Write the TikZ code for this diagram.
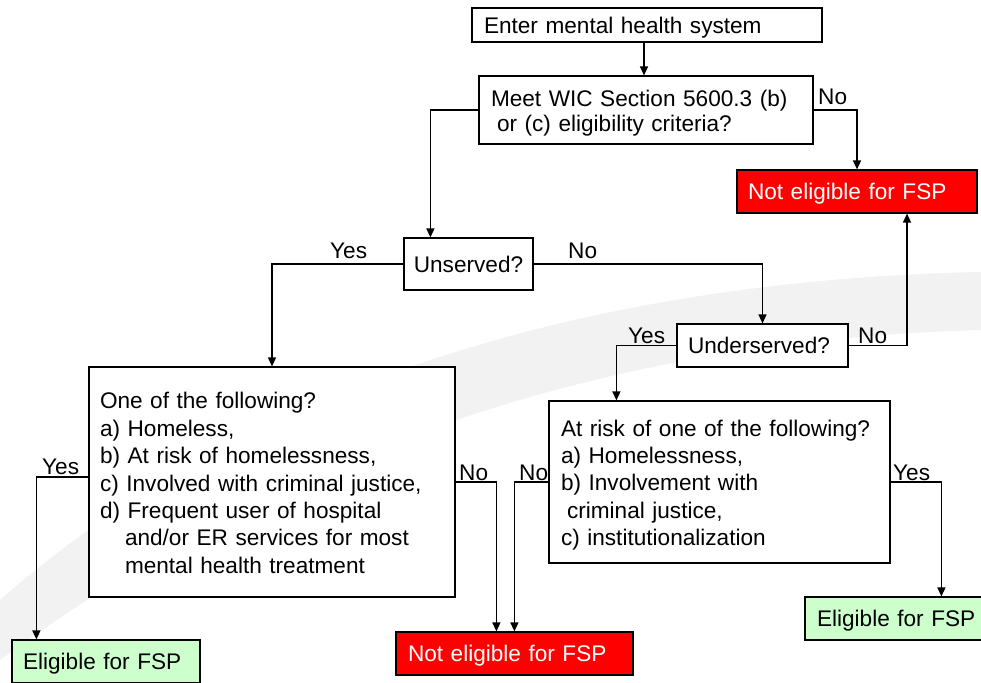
\documentclass[tikz,border=0pt]{standalone}
\usepackage{fontspec}
\setmainfont{Liberation Sans}
\usetikzlibrary{arrows.meta}
\definecolor{nored}{HTML}{FF0000}
\definecolor{yesgreen}{HTML}{CCFFCC}
\begin{document}
\begin{tikzpicture}[x=1pt,y=-1pt,
  every node/.style={font=\fontsize{22.6}{27.4}\selectfont},
  box/.style={draw=black, line width=1.2pt, fill=white, align=left, inner ysep=0pt, anchor=center},
  one/.style={box, text depth=0pt},
  redbox/.style={one, fill=nored, text=white},
  greenbox/.style={one, fill=yesgreen},
  lab/.style={anchor=base west, inner sep=0pt},
  arr/.style={line width=1.4pt, -{Triangle[length=9pt,width=8pt]}}
]
\useasboundingbox (0,0) rectangle (981,682);
\fill[white] (0,0) rectangle (981,682);
% faint background swoosh
\fill[black!5] (0,600) .. controls (250,380) and (600,280) .. (981,272)
  -- (981,330) .. controls (620,340) and (300,440) .. (0,660) -- cycle;

\node[one, inner xsep=12pt, text width=326pt, minimum height=34pt] (enter) at (647,25) {Enter mental health system};
\node[box, inner xsep=12pt, text width=310pt, minimum height=68pt, font=\fontsize{22.6}{25}\selectfont] (meet) at (646,110) {\rule{0pt}{23.3pt}Meet WIC Section 5600.3 (b)\\\hspace*{6pt}or (c) eligibility criteria?};
\node[redbox, inner xsep=11pt, text width=218pt, minimum height=43pt] (ne1) at (857,191.5) {\mbox{Not eligible for FSP}};
\node[one, minimum width=129pt, minimum height=52pt] (unserved) at (468.5,264) {Unserved?};
\node[one, inner xsep=11pt, text width=149pt, minimum height=43pt] (under) at (762.5,345.5) {\mbox{Underserved?}};
\node[box, inner xsep=11pt, text width=344pt, minimum height=230pt] (big) at (272,482) {\rule{0pt}{18.3pt}One of the following?\\a) Homeless,\\b) At risk of homelessness,\\c) Involved with criminal justice,\\d) Frequent user of hospital\\\hspace*{25pt}and/or ER services for most\\\hspace*{25pt}mental health treatment};
\node[box, inner xsep=12pt, text width=317pt, minimum height=162pt] (risk) at (719.5,482) {\rule{0pt}{22.3pt}At risk of one of the following?\\a) Homelessness,\\b) Involvement with\\\hspace*{6pt}criminal justice,\\c) institutionalization};
\node[redbox, inner xsep=12pt, text width=213pt, minimum height=43pt] (ne2) at (514.5,653.5) {\mbox{Not eligible for FSP}};
\node[greenbox, inner xsep=11pt, text width=166pt, minimum height=43pt] (elig1) at (106,661.5) {\mbox{Eligible for FSP}};
\node[greenbox, inner xsep=12pt, text width=154pt, minimum height=43pt] (elig2) at (894,618.5) {\mbox{Eligible for FSP}};

\draw[arr] ([xshift=-3pt]enter.south) -- ([xshift=-3pt]enter.south |- meet.north);
\draw[arr] (meet.east) -| (ne1.north);
\draw[arr] (meet.west) -| ([xshift=27pt]unserved.north west);
\draw[arr] (unserved.west) -| (big.north);
\draw[arr] (unserved.east) -| (under.north);
\draw[arr] (under.east) -| ([xshift=50pt]ne1.south);
\draw[arr] (under.west) -| ([xshift=68pt]risk.north west);
\draw[arr] ([yshift=5pt]big.west) -| ([xshift=25pt]elig1.north west);
\draw[arr] (big.east) -| ([xshift=101pt]ne2.north west);
\draw[arr] (risk.west) -| ([xshift=119pt]ne2.north west);
\draw[arr] (risk.east) -| ([xshift=137pt]elig2.north west);

\node[lab] (l1) at (818,105) {No};
\node[lab] (l2) at (330,258) {Yes};
\node[lab] (l3) at (568,258) {No};
\node[lab] (l4) at (628,343) {Yes};
\node[lab] (l5) at (858,343) {No};
\node[lab] (l6) at (42,474) {Yes};
\node[lab] (l7) at (459,480) {No};
\node[lab] (l8) at (519,480) {No};
\node[lab] (l9) at (893,480) {Yes};
\end{tikzpicture}
\end{document}
